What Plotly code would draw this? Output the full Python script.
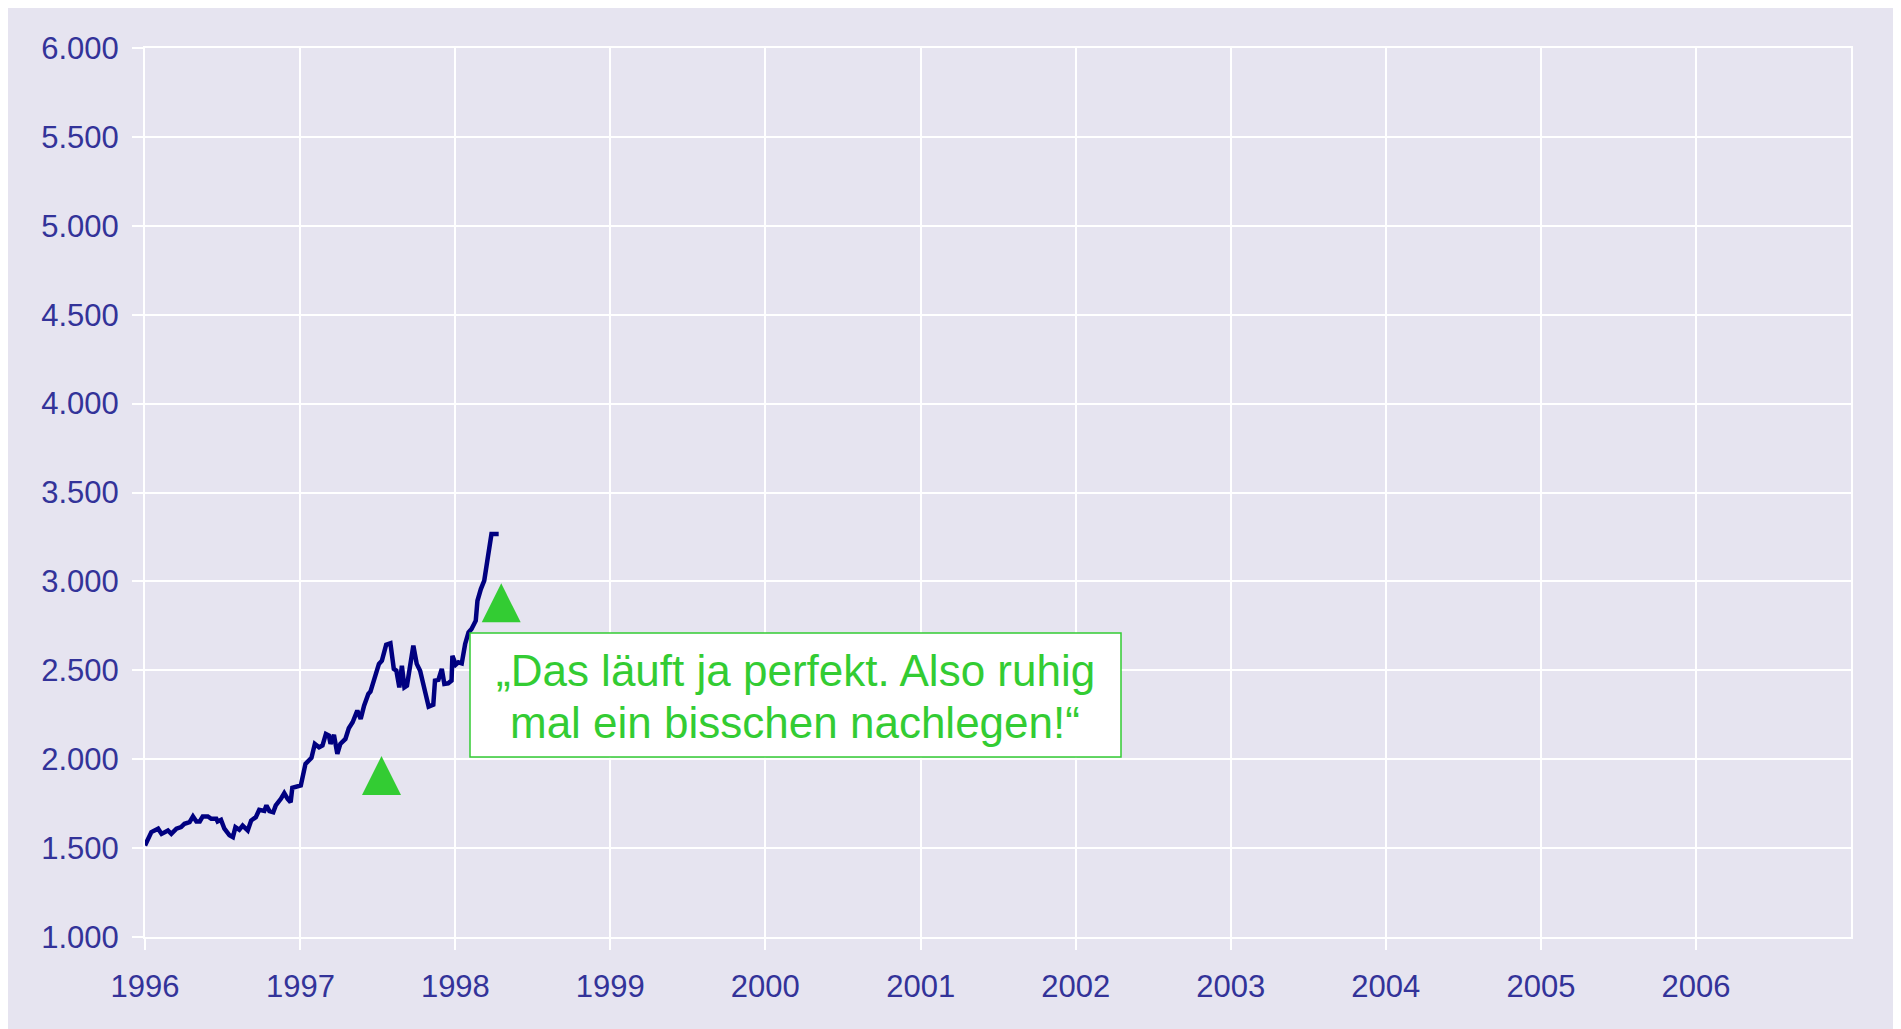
import plotly.graph_objects as go

# ---- data ----
dates = [
    "1996-01-01", "1996-01-16", "1996-02-01", "1996-02-09", "1996-02-24", "1996-03-03",
    "1996-03-15", "1996-03-26", "1996-04-03", "1996-04-15", "1996-04-23", "1996-05-01",
    "1996-05-09", "1996-05-16", "1996-05-28", "1996-06-05", "1996-06-17", "1996-06-20",
    "1996-06-28", "1996-07-06", "1996-07-18", "1996-07-26", "1996-08-01", "1996-08-10",
    "1996-08-18", "1996-08-30", "1996-09-07", "1996-09-18", "1996-09-26", "1996-10-08",
    "1996-10-13", "1996-10-20", "1996-10-29", "1996-11-04", "1996-11-16", "1996-11-24",
    "1996-12-02", "1996-12-09", "1996-12-13", "1996-12-25", "1997-01-02", "1997-01-13",
    "1997-01-27", "1997-02-04", "1997-02-14", "1997-02-22", "1997-03-02", "1997-03-09",
    "1997-03-13", "1997-03-21", "1997-03-29", "1997-04-05", "1997-04-17", "1997-04-25",
    "1997-05-04", "1997-05-15", "1997-05-23", "1997-05-31", "1997-06-10", "1997-06-15",
    "1997-06-27", "1997-07-05", "1997-07-12", "1997-07-22", "1997-08-01", "1997-08-09",
    "1997-08-15", "1997-08-22", "1997-08-28", "1997-09-03", "1997-09-09", "1997-09-17",
    "1997-09-24", "1997-10-02", "1997-10-10", "1997-10-22", "1997-10-30", "1997-11-10",
    "1997-11-14", "1997-11-22", "1997-11-30", "1997-12-06", "1997-12-15", "1997-12-23",
    "1997-12-25", "1998-01-02", "1998-01-08", "1998-01-16", "1998-01-24", "1998-02-01",
    "1998-02-08", "1998-02-18", "1998-02-22", "1998-03-02", "1998-03-10", "1998-03-19",
    "1998-03-27", "1998-04-13",
]
values = [
    1515, 1590, 1609, 1580, 1599, 1580, 1609, 1618, 1637, 1646,
    1678, 1650, 1650, 1678, 1678, 1665, 1665, 1650, 1659, 1609,
    1572, 1562, 1618, 1603, 1627, 1599, 1655, 1674, 1715, 1709,
    1740, 1708, 1702, 1740, 1777, 1809, 1777, 1758, 1839, 1846,
    1852, 1974, 2007, 2086, 2067, 2077, 2142, 2133, 2086, 2137,
    2030, 2086, 2114, 2174, 2208, 2273, 2227, 2301, 2367, 2380,
    2466, 2536, 2554, 2644, 2652, 2508, 2498, 2404, 2526, 2404,
    2414, 2554, 2639, 2536, 2498, 2376, 2296, 2307, 2442, 2446,
    2508, 2423, 2427, 2442, 2582, 2532, 2545, 2539, 2648, 2713,
    2732, 2779, 2891, 2957, 3004, 3144, 3266, 3266,
]
signal_dates = ["1997-07-11", "1998-04-19"]
signal_values = [2018, 2989]

year_ticks = [f"{y}-01-01" for y in range(1996, 2007)]
year_labels = [str(y) for y in range(1996, 2007)]
y_ticks = [1000, 1500, 2000, 2500, 3000, 3500, 4000, 4500, 5000, 5500, 6000]
quote_lines = ["„Das läuft ja perfekt. Also ruhig", "mal ein bisschen nachlegen!“"]

# ---- layout geometry (screen pixels; page body adds an 8px offset) ----
W, H = 1893, 1021
OFF = 8
L, R, T, B = 137, 50, 40, 92
PW = W - L - R
PH = H - T - B


def px(x):
    return (x - OFF - L) / PW


def py(y):
    return 1 - (y - OFF - T) / PH


BG = "#E6E4F0"
TXT = "#333399"
GREEN = "#33CC33"
FONT = "Liberation Sans, Arial, sans-serif"

fig = go.Figure()
fig.add_trace(go.Scatter(
    x=dates, y=values, mode="lines",
    line=dict(color="#000080", width=4.5),
    hoverinfo="skip",
))
fig.add_trace(go.Scatter(
    x=signal_dates, y=signal_values, mode="markers",
    marker=dict(symbol="arrow-up", size=39, color=GREEN, line=dict(width=0)),
    hoverinfo="skip",
))

fig.update_layout(
    template="none",
    width=W, height=H,
    margin=dict(l=L, r=R, t=T, b=B, pad=0),
    paper_bgcolor=BG, plot_bgcolor=BG,
    showlegend=False,
    separators=",.",
    font=dict(family=FONT, color=TXT, size=31),
    xaxis=dict(
        type="date",
        range=["1996-01-01", "2007-01-01"],
        tickvals=year_ticks, ticktext=year_labels,
        showgrid=True, gridcolor="white", gridwidth=2,
        showline=True, linecolor="white", linewidth=2, mirror=True,
        ticks="outside", ticklen=11, tickcolor="white", tickwidth=2,
        tickfont=dict(family=FONT, color=TXT, size=31),
        ticklabelstandoff=10,
        zeroline=False,
    ),
    yaxis=dict(
        range=[1000, 6000],
        tickvals=y_ticks, tickformat=",",
        showgrid=True, gridcolor="white", gridwidth=2,
        showline=True, linecolor="white", linewidth=2, mirror=True,
        ticks="outside", ticklen=11, tickcolor="white", tickwidth=2,
        tickfont=dict(family=FONT, color=TXT, size=31),
        ticklabelstandoff=7,
        zeroline=False,
    ),
)

# quote box
fig.add_shape(
    type="rect", xref="paper", yref="paper",
    x0=px(470), x1=px(1121), y0=py(757), y1=py(633),
    fillcolor="white", line=dict(color=GREEN, width=1.5), layer="above",
)
for text, ycen in zip(quote_lines, [670, 722]):
    fig.add_annotation(
        text=text, xref="paper", yref="paper",
        x=px(795), y=py(ycen), xanchor="center", yanchor="middle",
        showarrow=False, font=dict(family=FONT, color=GREEN, size=44),
    )

fig.write_html("out.html")
